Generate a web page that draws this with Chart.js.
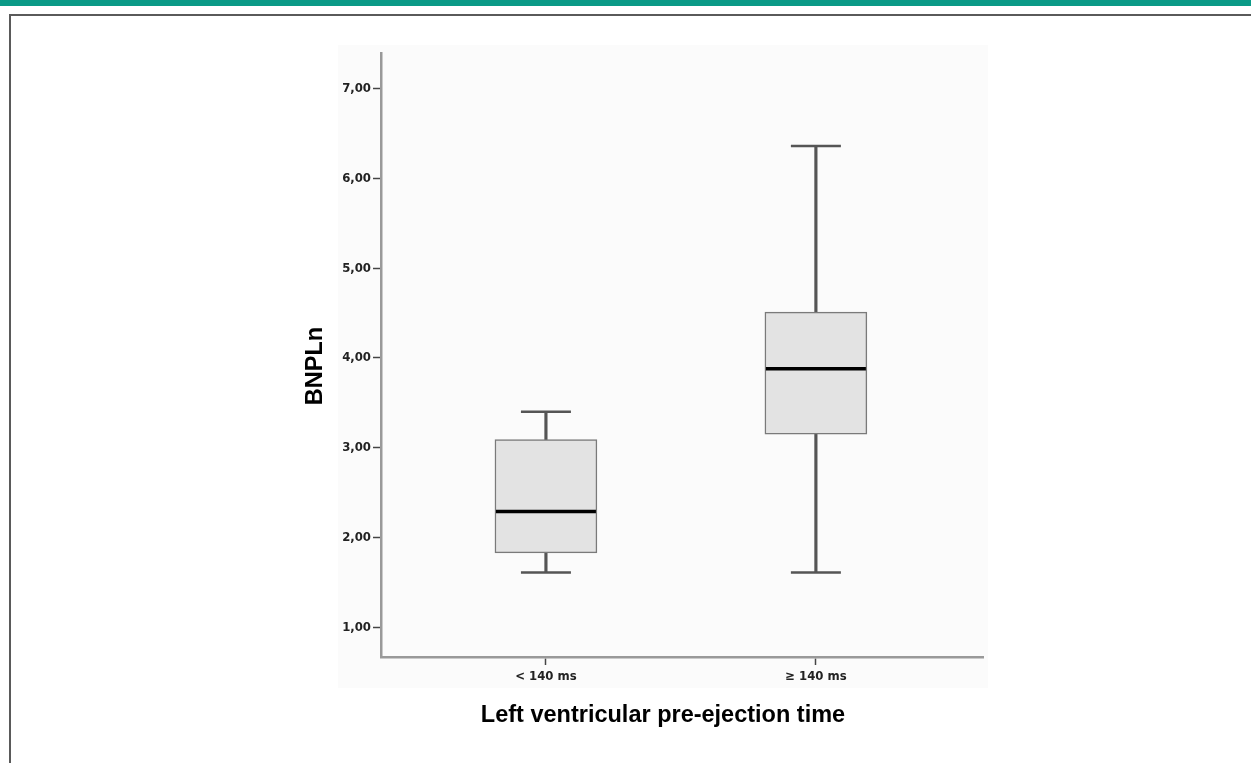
<!DOCTYPE html>
<html>
<head>
<meta charset="utf-8">
<title>BNPLn by pre-ejection time</title>
<script src="https://cdn.jsdelivr.net/npm/chart.js@4.4.1/dist/chart.umd.min.js"></script>
<style>
    html, body { margin: 0; padding: 0; background: #fff; }
    .page { position: relative; width: 1251px; height: 763px; overflow: hidden; }
    .topbar { position: absolute; left: 0; top: 0; width: 1251px; height: 6px; background: #0b9a87; }
    .frame { position: absolute; left: 9px; top: 14px; right: -5px; bottom: -5px;
             border-top: 2px solid #5a5a5a; border-left: 2px solid #5a5a5a; }
    .plotbg { position: absolute; left: 338px; top: 45px; width: 650px; height: 643px; background: #fbfbfb; }
    #boxChart { position: absolute; left: 0; top: 0; }
</style>
</head>
<body>
<div class="page">
    <div class="topbar"></div>
    <div class="frame"></div>
    <div class="plotbg"></div>
    <canvas id="boxChart" width="1251" height="763"></canvas>
</div>
<script>
/*----------------------------- data -------------------------------------------------*/
const categories = ['< 140 ms', '\u2265 140 ms'];
const whiskerLow = [1.61, 1.61];
const q1 = [1.83, 3.15];
const median = [2.29, 3.88];
const q3 = [3.09, 4.51];
const whiskerHigh = [3.40, 6.36];
const yTicks = [1, 2, 3, 4, 5, 6, 7];

const xTitle = 'Left ventricular pre-ejection time';
const yTitle = 'BNPLn';

/*----------------------------- helpers -------------------------------------------------*/
function pts(values) {
    return values.map((v, i) => ({ x: i, y: v }));
}
function ranges(lo, hi) {
    return lo.map((v, i) => ({ x: i, y: [v, hi[i]] }));
}

// axis titles, drawn as text next to the plot
const axisTitles = {
    id: 'axisTitles',
    afterDraw(chart) {
        const ctx = chart.ctx;
        ctx.save();
        ctx.fillStyle = '#000';
        ctx.font = 'bold 23.5px "Liberation Sans", Arial, sans-serif';
        ctx.textAlign = 'center';
        ctx.textBaseline = 'alphabetic';
        ctx.fillText(xTitle, 663, 722);
        ctx.translate(322, 366);
        ctx.rotate(-Math.PI / 2);
        ctx.fillText(yTitle, 0, 0);
        ctx.restore();
    }
};

/*----------------------------- chart -------------------------------------------------*/
const tickFont = { family: '"Liberation Sans Narrow", "DejaVu Sans Condensed", Arial', size: 13, weight: 'bold' };

let boxChart = new Chart(document.getElementById('boxChart').getContext('2d'), {
    data: {
        datasets: [
            {
                type: 'bar',
                data: ranges(whiskerLow, q1),
                backgroundColor: '#555',
                barThickness: 2.5,
                grouped: false,
                order: 4
            },
            {
                type: 'bar',
                data: ranges(q3, whiskerHigh),
                backgroundColor: '#555',
                barThickness: 2.5,
                grouped: false,
                order: 4
            },
            {
                type: 'bar',
                data: ranges(q1, q3),
                backgroundColor: '#e3e3e3',
                borderColor: '#7a7a7a',
                borderWidth: 1.5,
                borderSkipped: false,
                barThickness: 102,
                grouped: false,
                order: 3
            },
            {
                type: 'line',
                data: pts(whiskerLow),
                showLine: false,
                pointStyle: 'line',
                pointRadius: 25,
                pointBorderColor: '#555',
                pointBorderWidth: 2.5,
                order: 2
            },
            {
                type: 'line',
                data: pts(whiskerHigh),
                showLine: false,
                pointStyle: 'line',
                pointRadius: 25,
                pointBorderColor: '#555',
                pointBorderWidth: 2.5,
                order: 2
            },
            {
                type: 'line',
                data: pts(median),
                showLine: false,
                pointStyle: 'line',
                pointRadius: 50,
                pointBorderColor: '#000',
                pointBorderWidth: 3.5,
                order: 1
            }
        ]
    },
    options: {
        responsive: false,
        animation: false,
        events: [],
        layout: { padding: { left: 0, right: 268, top: 50, bottom: 0 } },
        plugins: {
            legend: { display: false },
            tooltip: { enabled: false }
        },
        scales: {
            x: {
                type: 'linear',
                min: -0.611,
                max: 1.619,
                offset: false,
                afterBuildTicks: (scale) => { scale.ticks = categories.map((c, i) => ({ value: i })); },
                afterFit: (scale) => { scale.height = 106; },
                border: { color: '#999', width: 2.5 },
                grid: { offset: false, drawOnChartArea: false, tickLength: 8, tickColor: '#444', tickWidth: 1.5 },
                ticks: {
                    color: '#222',
                    font: tickFont,
                    padding: 4,
                    maxRotation: 0,
                    callback: (v) => categories[v]
                }
            },
            y: {
                type: 'linear',
                min: 0.67,
                max: 7.39,
                afterBuildTicks: (scale) => { scale.ticks = yTicks.map(v => ({ value: v })); },
                afterFit: (scale) => { scale.width = 381; },
                border: { color: '#999', width: 2.5 },
                grid: { drawOnChartArea: false, tickLength: 8, tickColor: '#444', tickWidth: 1.5 },
                ticks: {
                    color: '#222',
                    font: tickFont,
                    padding: 2,
                    callback: (v) => v.toFixed(2).replace('.', ',')
                }
            }
        }
    },
    plugins: [axisTitles]
});
</script>
</body>
</html>
